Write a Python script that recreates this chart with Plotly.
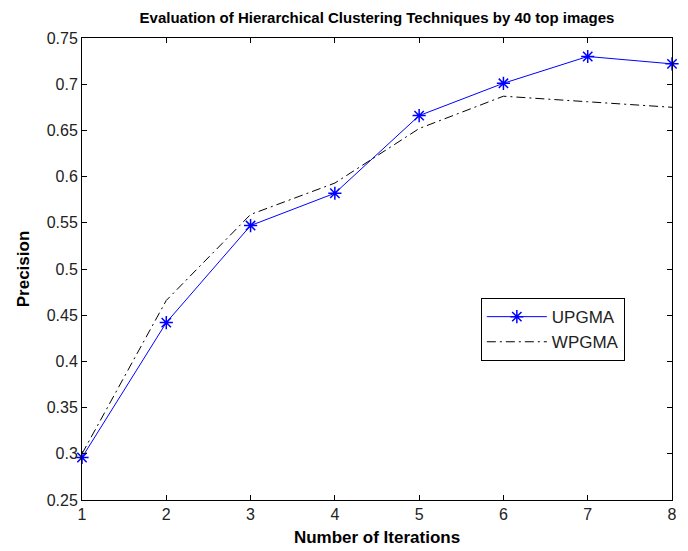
import plotly.graph_objects as go

iterations = [1, 2, 3, 4, 5, 6, 7, 8]
upgma = [0.296, 0.442, 0.547, 0.582, 0.666, 0.701, 0.730, 0.722]
wpgma = [0.300, 0.466, 0.559, 0.593, 0.652, 0.687, 0.681, 0.675]

x_ticks = [1, 2, 3, 4, 5, 6, 7, 8]
y_ticks = [0.25, 0.3, 0.35, 0.4, 0.45, 0.5, 0.55, 0.6, 0.65, 0.7, 0.75]
y_tick_text = ["0.25", "0.3", "0.35", "0.4", "0.45", "0.5", "0.55", "0.6", "0.65", "0.7", "0.75"]

FONT = "Liberation Sans, Arial, sans-serif"

fig = go.Figure()
fig.add_trace(go.Scatter(
    x=iterations, y=upgma, name="UPGMA", mode="lines+markers",
    line=dict(color="#0000ff", width=1),
    marker=dict(symbol="asterisk-open", size=11, color="#0000ff",
                line=dict(color="#0000ff", width=1.5)),
    cliponaxis=False,
))
fig.add_trace(go.Scatter(
    x=iterations, y=wpgma, name="WPGMA", mode="lines",
    line=dict(color="#000000", width=1, dash="9px,4px,2px,4px"),
    cliponaxis=False,
))

axis_common = dict(
    showgrid=False, zeroline=False, showline=True, linecolor="black", linewidth=1,
    mirror="ticks", ticks="inside", ticklen=5, tickcolor="black", automargin=False,
    tickfont=dict(family=FONT, size=16, color="#222222"),
)

fig.update_layout(
    width=688, height=551,
    margin=dict(l=82, r=16, t=38, b=51),
    paper_bgcolor="white", plot_bgcolor="white",
    title=dict(text="<b>Evaluation of Hierarchical Clustering Techniques by 40 top images</b>",
               x=0.5, xanchor="center", xref="paper", y=0.967, yanchor="middle",
               font=dict(family=FONT, size=15, color="black")),
    xaxis=dict(range=[1, 8], tickvals=x_ticks, ticktext=[str(v) for v in x_ticks],
               title=dict(text="<b>Number of Iterations</b>", standoff=8,
                          font=dict(family=FONT, size=17, color="black")),
               **axis_common),
    yaxis=dict(range=[0.25, 0.75], tickvals=y_ticks, ticktext=y_tick_text,
               title=dict(text="<b>Precision</b>", standoff=12,
                          font=dict(family=FONT, size=17, color="black")),
               **axis_common),
    legend=dict(x=0.676, y=0.437, xanchor="left", yanchor="top",
                bgcolor="white", bordercolor="black", borderwidth=1,
                font=dict(family=FONT, size=17, color="#222222"),
                itemwidth=60, tracegroupgap=0),
    showlegend=True,
)

fig.write_html("out.html")
